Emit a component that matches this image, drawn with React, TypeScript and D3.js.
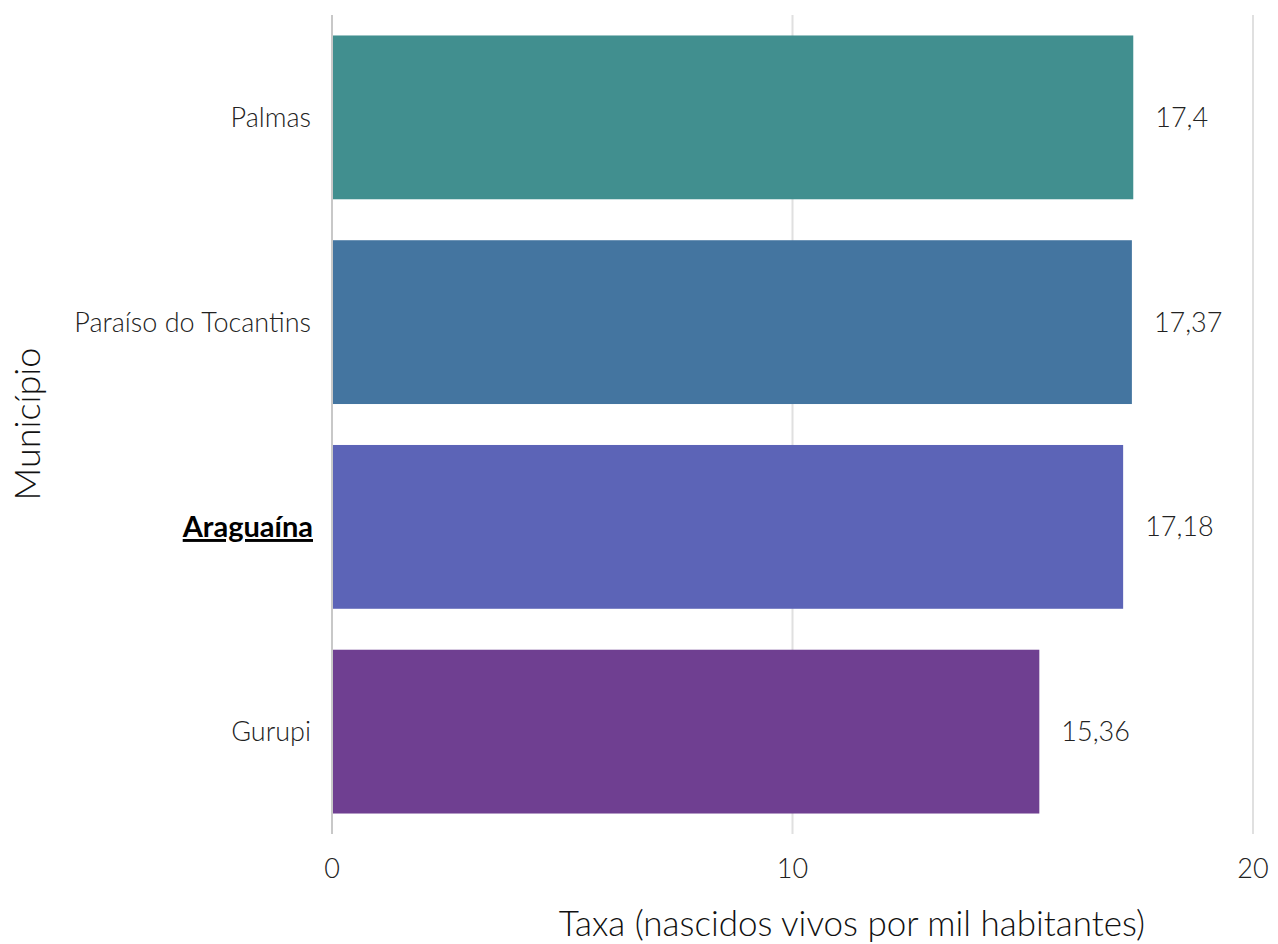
import React from "react";
import * as d3 from "d3";

const categories = ["Palmas", "Paraíso do Tocantins", "Araguaína", "Gurupi"];
const values = [17.4, 17.37, 17.18, 15.36];
const valueLabels = ["17,4", "17,37", "17,18", "15,36"];
const barColors = ["#418F8F", "#4475A0", "#5C64B7", "#6F3F91"];
const highlighted = ["Araguaína"];
const xTicks = [0, 10, 20];

const W = 1278;
const H = 944;
const FONT = "Lato, 'Open Sans', sans-serif";

export default function App() {
  const x = d3.scaleLinear().domain([0, 20]).range([332, 1253]);
  const y = d3.scaleBand<string>().domain(categories).range([15, 834]).paddingInner(0.2).paddingOuter(0.1);
  const bw = y.bandwidth();
  return (
    <svg width={W} height={H} style={{ position: "absolute", left: 0, top: 0 }} fontFamily={FONT}>
      <rect width={W} height={H} fill="#fff" />
      {xTicks.map((t) => (
        <line key={t} x1={x(t)} x2={x(t)} y1={15} y2={834} stroke={t === 0 ? "#c8c8c8" : "#e0e0e0"} strokeWidth={2} />
      ))}
      {categories.map((c, i) => (
        <g key={c}>
          <rect x={x(0) + 1} y={y(c)} width={x(values[i]) - x(0) - 1} height={bw} fill={barColors[i]} />
          <text x={x(values[i]) + 22} y={(y(c) as number) + bw / 2} dy="0.35em" fontSize={27} fontWeight={300} fill="#222">
            {valueLabels[i]}
          </text>
          <text
            x={highlighted.includes(c) ? 313 : 311}
            y={(y(c) as number) + bw / 2}
            dy="0.35em"
            textAnchor="end"
            fontSize={highlighted.includes(c) ? 29 : 27}
            fontWeight={highlighted.includes(c) ? 700 : 300}
            textDecoration={highlighted.includes(c) ? "underline" : undefined}
            fill={highlighted.includes(c) ? "#000" : "#222"}
          >
            {c}
          </text>
        </g>
      ))}
      {xTicks.map((t) => (
        <text key={"l" + t} x={x(t)} y={869} dy="0.35em" textAnchor="middle" fontSize={27} fontWeight={300} fill="#222">
          {t}
        </text>
      ))}
      <text x={852} y={924} dy="0.35em" textAnchor="middle" fontSize={35} fontWeight={300} fill="#111">
        Taxa (nascidos vivos por mil habitantes)
      </text>
      <text transform="translate(27,424) rotate(-90)" dy="0.35em" textAnchor="middle" fontSize={36} fontWeight={300} fill="#111">
        Município
      </text>
    </svg>
  );
}
